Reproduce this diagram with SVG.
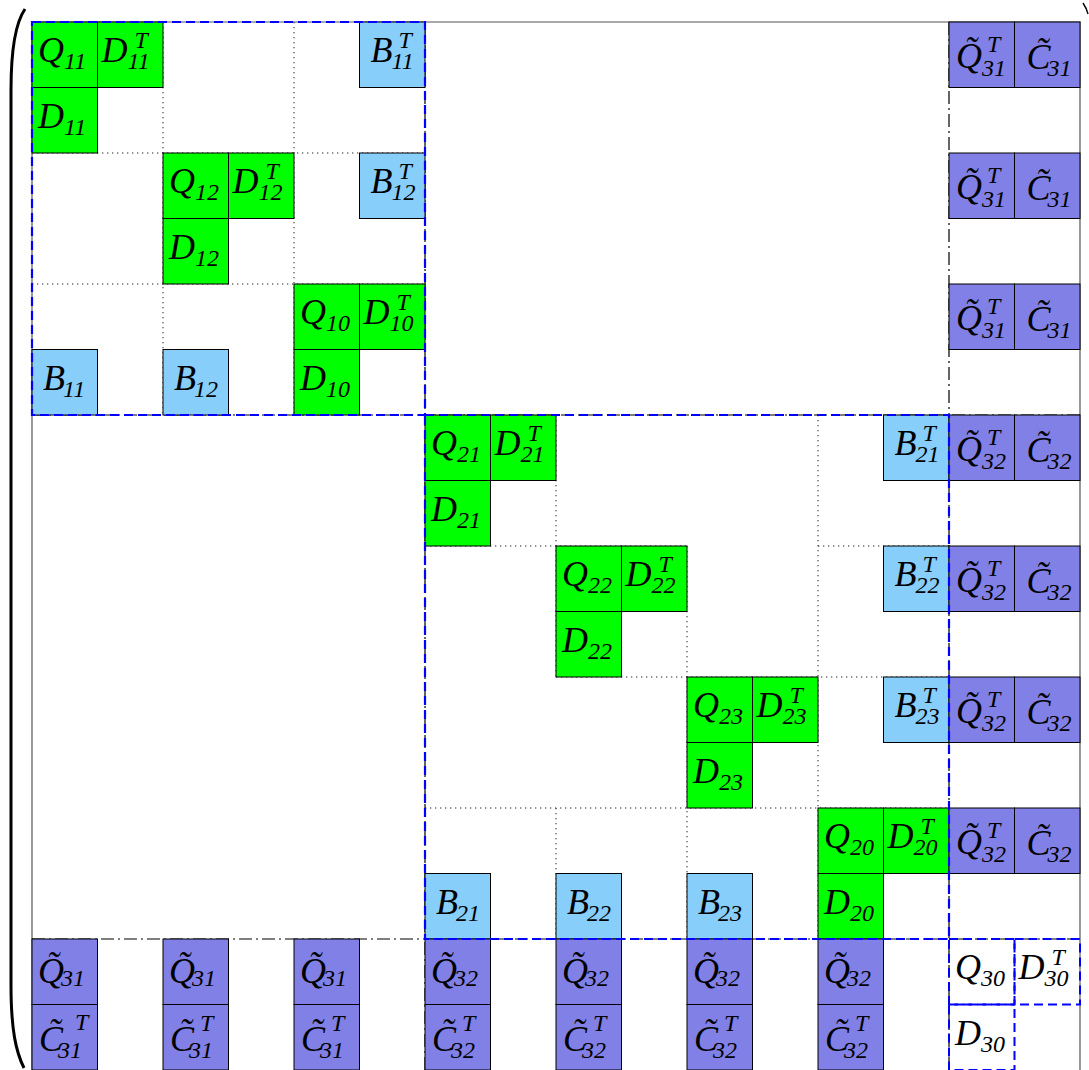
<svg xmlns="http://www.w3.org/2000/svg" width="1089" height="1070" viewBox="0 0 1089 1070">
<style>
.g{fill:#00ff00;stroke:#000;stroke-width:1}
.b{fill:#87cefa;stroke:#000;stroke-width:1}
.p{fill:#8080e6;stroke:#000;stroke-width:1}
.w{fill:none;stroke:#0000ff;stroke-width:2;stroke-dasharray:9,5}
.m{font-family:"Liberation Serif","Times New Roman",serif;font-style:italic;font-size:36px;fill:#000}
.s{font-size:24px}
.dot{stroke:#222;stroke-width:1;stroke-dasharray:1.3,3.7;fill:none}
.dd{stroke:#000;stroke-width:1.2;stroke-dasharray:13,4,2,4;fill:none}
.bd{stroke:#0000ff;stroke-width:2.2;stroke-dasharray:9,5;fill:none}
.frame{stroke:#555;stroke-width:1.2;fill:none}
</style>
<defs>
<rect id="cell" width="65.5" height="65.5"/>
</defs>
<rect width="1089" height="1070" fill="#fff"/>
<g id="brackets" fill="none" stroke="#000">
<path d="M25,9 C16,22 11,45 11,90 L11,985 C11,1030 16,1052 24,1068" stroke-width="3"/>
<path d="M1083,3 C1085,6 1087,9 1088,14" stroke-width="1.4"/>
</g>
<g id="connectors">
<path class="frame" d="M32,1070 V22 H1080 V1070"/>
<path class="dot" d="M163,22 V415 M294,22 V415 M32,153 H425 M32,284 H425 M556,415 V677 M556,808 V939 M687,546 V939 M818,415 V939 M425,546 H687 M818,546 H949 M556,677 H949 M425,808 H949"/>
<path class="dd" d="M425,22 V1070 M949,22 V1070 M32,415 H1080 M32,939 H1080"/>
</g>
<g id="nodes">
<!-- block 1 -->
<g id="Q11" transform="translate(32,22)"><use href="#cell" class="g"/><text class="m" x="6" y="40">Q<tspan class="s" dy="7">11</tspan></text></g>
<g id="D11T" transform="translate(97.5,22)"><use href="#cell" class="g"/><text class="m" x="4" y="40">D<tspan class="s" x="37" y="26">T</tspan><tspan class="s" x="30" y="47">11</tspan></text></g>
<g id="B11T" transform="translate(359.5,22)"><use href="#cell" class="b"/><text class="m" x="11" y="40">B<tspan class="s" x="39" y="26">T</tspan><tspan class="s" x="32" y="47">11</tspan></text></g>
<g id="Qt31T_r0" transform="translate(949,22)"><use href="#cell" class="p"/><text class="m" x="7" y="46">Q̃<tspan class="s" x="38" y="30">T</tspan><tspan class="s" x="33" y="54">31</tspan></text></g>
<g id="Ct31_r0" transform="translate(1014.5,22)"><use href="#cell" class="p"/><text class="m" x="12" y="47">C̃<tspan class="s" dx="-3" dy="7">31</tspan></text></g>
<g id="D11" transform="translate(32,87.5)"><use href="#cell" class="g"/><text class="m" x="6" y="40">D<tspan class="s" dy="7">11</tspan></text></g>
<g id="Q12" transform="translate(163,153)"><use href="#cell" class="g"/><text class="m" x="6" y="40">Q<tspan class="s" dy="7">12</tspan></text></g>
<g id="D12T" transform="translate(228.5,153)"><use href="#cell" class="g"/><text class="m" x="4" y="40">D<tspan class="s" x="37" y="26">T</tspan><tspan class="s" x="30" y="47">12</tspan></text></g>
<g id="B12T" transform="translate(359.5,153)"><use href="#cell" class="b"/><text class="m" x="11" y="40">B<tspan class="s" x="39" y="26">T</tspan><tspan class="s" x="32" y="47">12</tspan></text></g>
<g id="Qt31T_r2" transform="translate(949,153)"><use href="#cell" class="p"/><text class="m" x="7" y="46">Q̃<tspan class="s" x="38" y="30">T</tspan><tspan class="s" x="33" y="54">31</tspan></text></g>
<g id="Ct31_r2" transform="translate(1014.5,153)"><use href="#cell" class="p"/><text class="m" x="12" y="47">C̃<tspan class="s" dx="-3" dy="7">31</tspan></text></g>
<g id="D12" transform="translate(163,218.5)"><use href="#cell" class="g"/><text class="m" x="6" y="40">D<tspan class="s" dy="7">12</tspan></text></g>
<g id="Q10" transform="translate(294,284)"><use href="#cell" class="g"/><text class="m" x="6" y="40">Q<tspan class="s" dy="7">10</tspan></text></g>
<g id="D10T" transform="translate(359.5,284)"><use href="#cell" class="g"/><text class="m" x="4" y="40">D<tspan class="s" x="37" y="26">T</tspan><tspan class="s" x="30" y="47">10</tspan></text></g>
<g id="Qt31T_r4" transform="translate(949,284)"><use href="#cell" class="p"/><text class="m" x="7" y="46">Q̃<tspan class="s" x="38" y="30">T</tspan><tspan class="s" x="33" y="54">31</tspan></text></g>
<g id="Ct31_r4" transform="translate(1014.5,284)"><use href="#cell" class="p"/><text class="m" x="12" y="47">C̃<tspan class="s" dx="-3" dy="7">31</tspan></text></g>
<g id="B11" transform="translate(32,349.5)"><use href="#cell" class="b"/><text class="m" x="11" y="40">B<tspan class="s" dx="-2" dy="7">11</tspan></text></g>
<g id="B12" transform="translate(163,349.5)"><use href="#cell" class="b"/><text class="m" x="11" y="40">B<tspan class="s" dx="-2" dy="7">12</tspan></text></g>
<g id="D10" transform="translate(294,349.5)"><use href="#cell" class="g"/><text class="m" x="6" y="40">D<tspan class="s" dy="7">10</tspan></text></g>
<!-- block 2 -->
<g id="Q21" transform="translate(425,415)"><use href="#cell" class="g"/><text class="m" x="6" y="40">Q<tspan class="s" dy="7">21</tspan></text></g>
<g id="D21T" transform="translate(490.5,415)"><use href="#cell" class="g"/><text class="m" x="4" y="40">D<tspan class="s" x="37" y="26">T</tspan><tspan class="s" x="30" y="47">21</tspan></text></g>
<g id="B21T" transform="translate(883.5,415)"><use href="#cell" class="b"/><text class="m" x="11" y="40">B<tspan class="s" x="39" y="26">T</tspan><tspan class="s" x="32" y="47">21</tspan></text></g>
<g id="Qt32T_r6" transform="translate(949,415)"><use href="#cell" class="p"/><text class="m" x="7" y="46">Q̃<tspan class="s" x="38" y="30">T</tspan><tspan class="s" x="33" y="54">32</tspan></text></g>
<g id="Ct32_r6" transform="translate(1014.5,415)"><use href="#cell" class="p"/><text class="m" x="12" y="47">C̃<tspan class="s" dx="-3" dy="7">32</tspan></text></g>
<g id="D21" transform="translate(425,480.5)"><use href="#cell" class="g"/><text class="m" x="6" y="40">D<tspan class="s" dy="7">21</tspan></text></g>
<g id="Q22" transform="translate(556,546)"><use href="#cell" class="g"/><text class="m" x="6" y="40">Q<tspan class="s" dy="7">22</tspan></text></g>
<g id="D22T" transform="translate(621.5,546)"><use href="#cell" class="g"/><text class="m" x="4" y="40">D<tspan class="s" x="37" y="26">T</tspan><tspan class="s" x="30" y="47">22</tspan></text></g>
<g id="B22T" transform="translate(883.5,546)"><use href="#cell" class="b"/><text class="m" x="11" y="40">B<tspan class="s" x="39" y="26">T</tspan><tspan class="s" x="32" y="47">22</tspan></text></g>
<g id="Qt32T_r8" transform="translate(949,546)"><use href="#cell" class="p"/><text class="m" x="7" y="46">Q̃<tspan class="s" x="38" y="30">T</tspan><tspan class="s" x="33" y="54">32</tspan></text></g>
<g id="Ct32_r8" transform="translate(1014.5,546)"><use href="#cell" class="p"/><text class="m" x="12" y="47">C̃<tspan class="s" dx="-3" dy="7">32</tspan></text></g>
<g id="D22" transform="translate(556,611.5)"><use href="#cell" class="g"/><text class="m" x="6" y="40">D<tspan class="s" dy="7">22</tspan></text></g>
<g id="Q23" transform="translate(687,677)"><use href="#cell" class="g"/><text class="m" x="6" y="40">Q<tspan class="s" dy="7">23</tspan></text></g>
<g id="D23T" transform="translate(752.5,677)"><use href="#cell" class="g"/><text class="m" x="4" y="40">D<tspan class="s" x="37" y="26">T</tspan><tspan class="s" x="30" y="47">23</tspan></text></g>
<g id="B23T" transform="translate(883.5,677)"><use href="#cell" class="b"/><text class="m" x="11" y="40">B<tspan class="s" x="39" y="26">T</tspan><tspan class="s" x="32" y="47">23</tspan></text></g>
<g id="Qt32T_r10" transform="translate(949,677)"><use href="#cell" class="p"/><text class="m" x="7" y="46">Q̃<tspan class="s" x="38" y="30">T</tspan><tspan class="s" x="33" y="54">32</tspan></text></g>
<g id="Ct32_r10" transform="translate(1014.5,677)"><use href="#cell" class="p"/><text class="m" x="12" y="47">C̃<tspan class="s" dx="-3" dy="7">32</tspan></text></g>
<g id="D23" transform="translate(687,742.5)"><use href="#cell" class="g"/><text class="m" x="6" y="40">D<tspan class="s" dy="7">23</tspan></text></g>
<g id="Q20" transform="translate(818,808)"><use href="#cell" class="g"/><text class="m" x="6" y="40">Q<tspan class="s" dy="7">20</tspan></text></g>
<g id="D20T" transform="translate(883.5,808)"><use href="#cell" class="g"/><text class="m" x="4" y="40">D<tspan class="s" x="37" y="26">T</tspan><tspan class="s" x="30" y="47">20</tspan></text></g>
<g id="Qt32T_r12" transform="translate(949,808)"><use href="#cell" class="p"/><text class="m" x="7" y="46">Q̃<tspan class="s" x="38" y="30">T</tspan><tspan class="s" x="33" y="54">32</tspan></text></g>
<g id="Ct32_r12" transform="translate(1014.5,808)"><use href="#cell" class="p"/><text class="m" x="12" y="47">C̃<tspan class="s" dx="-3" dy="7">32</tspan></text></g>
<g id="B21" transform="translate(425,873.5)"><use href="#cell" class="b"/><text class="m" x="11" y="40">B<tspan class="s" dx="-2" dy="7">21</tspan></text></g>
<g id="B22" transform="translate(556,873.5)"><use href="#cell" class="b"/><text class="m" x="11" y="40">B<tspan class="s" dx="-2" dy="7">22</tspan></text></g>
<g id="B23" transform="translate(687,873.5)"><use href="#cell" class="b"/><text class="m" x="11" y="40">B<tspan class="s" dx="-2" dy="7">23</tspan></text></g>
<g id="D20" transform="translate(818,873.5)"><use href="#cell" class="g"/><text class="m" x="6" y="40">D<tspan class="s" dy="7">20</tspan></text></g>
<!-- bottom rows -->
<g id="Qt31_c0" transform="translate(32,939)"><use href="#cell" class="p"/><text class="m" x="6" y="44">Q̃<tspan class="s" dx="-3" dy="3">31</tspan></text></g>
<g id="Qt31_c2" transform="translate(163,939)"><use href="#cell" class="p"/><text class="m" x="6" y="44">Q̃<tspan class="s" dx="-3" dy="3">31</tspan></text></g>
<g id="Qt31_c4" transform="translate(294,939)"><use href="#cell" class="p"/><text class="m" x="6" y="44">Q̃<tspan class="s" dx="-3" dy="3">31</tspan></text></g>
<g id="Qt32_c6" transform="translate(425,939)"><use href="#cell" class="p"/><text class="m" x="6" y="44">Q̃<tspan class="s" dx="-3" dy="3">32</tspan></text></g>
<g id="Qt32_c8" transform="translate(556,939)"><use href="#cell" class="p"/><text class="m" x="6" y="44">Q̃<tspan class="s" dx="-3" dy="3">32</tspan></text></g>
<g id="Qt32_c10" transform="translate(687,939)"><use href="#cell" class="p"/><text class="m" x="6" y="44">Q̃<tspan class="s" dx="-3" dy="3">32</tspan></text></g>
<g id="Qt32_c12" transform="translate(818,939)"><use href="#cell" class="p"/><text class="m" x="6" y="44">Q̃<tspan class="s" dx="-3" dy="3">32</tspan></text></g>
<g id="Ct31T_c0" transform="translate(32,1004.5)"><use href="#cell" class="p"/><text class="m" x="7" y="46">C̃<tspan class="s" x="43" y="25">T</tspan><tspan class="s" x="26" y="53">31</tspan></text></g>
<g id="Ct31T_c2" transform="translate(163,1004.5)"><use href="#cell" class="p"/><text class="m" x="7" y="46">C̃<tspan class="s" x="37" y="26">T</tspan><tspan class="s" x="26" y="53">31</tspan></text></g>
<g id="Ct31T_c4" transform="translate(294,1004.5)"><use href="#cell" class="p"/><text class="m" x="7" y="46">C̃<tspan class="s" x="37" y="26">T</tspan><tspan class="s" x="26" y="53">31</tspan></text></g>
<g id="Ct32T_c6" transform="translate(425,1004.5)"><use href="#cell" class="p"/><text class="m" x="7" y="46">C̃<tspan class="s" x="37" y="26">T</tspan><tspan class="s" x="26" y="53">32</tspan></text></g>
<g id="Ct32T_c8" transform="translate(556,1004.5)"><use href="#cell" class="p"/><text class="m" x="7" y="46">C̃<tspan class="s" x="37" y="26">T</tspan><tspan class="s" x="26" y="53">32</tspan></text></g>
<g id="Ct32T_c10" transform="translate(687,1004.5)"><use href="#cell" class="p"/><text class="m" x="7" y="46">C̃<tspan class="s" x="37" y="26">T</tspan><tspan class="s" x="26" y="53">32</tspan></text></g>
<g id="Ct32T_c12" transform="translate(818,1004.5)"><use href="#cell" class="p"/><text class="m" x="7" y="46">C̃<tspan class="s" x="37" y="26">T</tspan><tspan class="s" x="26" y="53">32</tspan></text></g>
<!-- block 3 -->
<g id="Q30" transform="translate(949,939)"><use href="#cell" class="w"/><text class="m" x="6" y="40">Q<tspan class="s" dy="7">30</tspan></text></g>
<g id="D30T" transform="translate(1014.5,939)"><use href="#cell" class="w"/><text class="m" x="4" y="40">D<tspan class="s" x="37" y="26">T</tspan><tspan class="s" x="30" y="47">30</tspan></text></g>
<g id="D30" transform="translate(949,1004.5)"><use href="#cell" class="w"/><text class="m" x="6" y="40">D<tspan class="s" dy="7">30</tspan></text></g>
</g>
<g id="blocks">
<rect class="bd" x="32" y="22" width="393" height="393"/>
<rect class="bd" x="425" y="415" width="524" height="524"/>
</g>
</svg>
